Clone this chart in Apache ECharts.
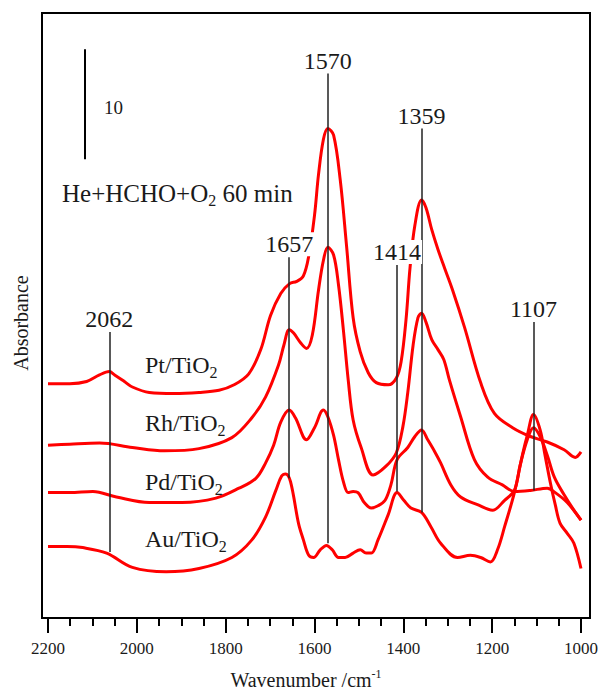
<!DOCTYPE html>
<html>
<head>
<meta charset="utf-8">
<script src="https://cdn.jsdelivr.net/npm/echarts@6/dist/echarts.min.js"></script>
<style>html,body{margin:0;padding:0;background:#fff}#c{width:601px;height:690px}</style>
</head>
<body>
<div id="c"></div>
<script>
// ---- data (wavenumber / cm-1, absorbance in arbitrary units; scale bar = 10) ----
const ptWavenumber = [2200,2151,2113,2084,2062,2050,2028,2010,1972,1916,1860,1815,1781,1748,1721,1699,1676,1656,1640,1625,1613,1600,1591,1580,1570,1557,1542,1528,1513,1497,1479,1461,1434,1416,1405,1394,1385,1374,1359,1349,1336,1322,1307,1289,1262,1226,1195,1154,1114,1076,1038,1013,1000];
const ptAbsorbance = [21.3,21.3,21.5,22.1,22.4,22.1,21.5,21.0,20.5,20.4,20.5,20.7,21.2,22.2,24.4,27.5,29.5,30.4,30.6,31.1,32.9,36.6,40.3,43.5,44.5,43.9,39.8,33.9,27.3,24.2,22.3,21.4,21.2,21.8,23.3,27.1,31.8,35.7,38.0,37.3,35.3,33.5,31.8,29.8,26.4,21.4,18.6,17.3,16.5,16.0,15.3,14.6,15.1];

const rhWavenumber = [2200,2151,2084,2010,1938,1860,1786,1741,1710,1681,1669,1657,1647,1631,1618,1605,1591,1580,1570,1557,1546,1535,1524,1513,1495,1468,1439,1416,1401,1390,1378,1367,1359,1349,1336,1322,1309,1296,1271,1240,1210,1177,1150,1114,1076,1058,1031,1000];
const rhAbsorbance = [15.7,15.8,15.9,15.5,15.2,15.4,16.4,18.2,20.1,23.0,24.8,26.2,25.9,25.0,24.5,25.7,29.8,32.5,33.7,33.0,30.3,26.2,21.6,18.0,15.5,13.0,13.8,15.0,17.4,20.5,24.8,27.3,27.7,26.9,25.3,24.4,23.5,21.6,18.3,14.4,12.8,12.1,11.5,11.6,11.8,11.4,10.5,8.9];

const pdWavenumber = [2200,2151,2099,2046,1972,1898,1822,1770,1732,1710,1692,1676,1657,1643,1618,1600,1580,1570,1557,1546,1535,1524,1513,1502,1488,1472,1457,1441,1428,1414,1390,1374,1359,1345,1329,1316,1293,1271,1233,1199,1172,1150,1137,1121,1107,1092,1076,1060,1038,1016,1000];
const pdAbsorbance = [11.4,11.4,11.5,11.0,10.5,10.5,10.9,11.8,12.7,14.1,15.7,17.8,18.9,18.2,16.2,17.3,18.9,18.3,16.6,14.4,12.4,11.4,11.5,11.4,10.5,10.0,10.2,10.7,12.1,14.4,15.5,16.5,17.1,16.2,15.1,14.1,12.1,11.0,10.3,9.8,10.7,11.6,13.9,16.2,17.3,16.5,14.8,12.8,11.2,9.8,8.9];

const auWavenumber = [2200,2157,2122,2068,2010,1934,1860,1786,1741,1710,1687,1674,1665,1654,1636,1625,1613,1602,1587,1573,1560,1546,1531,1513,1497,1484,1472,1457,1434,1414,1399,1383,1359,1338,1316,1278,1249,1226,1204,1188,1172,1150,1132,1121,1107,1092,1081,1069,1058,1047,1031,1016,1000];
const auAbsorbance = [6.5,6.5,6.4,5.9,4.6,4.2,4.5,5.5,7.1,9.2,11.6,12.9,13.1,12.4,8.6,7.1,5.7,5.5,6.2,6.6,6.2,5.5,5.5,5.9,6.2,5.9,5.9,7.1,9.4,11.4,10.7,10.0,9.6,8.3,6.8,5.5,5.7,5.5,5.1,6.2,8.3,11.4,14.8,16.6,18.5,17.1,14.8,12.3,10.3,8.6,7.7,6.8,4.5];

const peakWavenumbers = [2062,1657,1570,1414,1359,1107];
const peakLineTop = [26.0,32.8,49.5,32.1,44.5,26.9];
const peakLineBottom = [6.0,12.7,6.8,11.5,9.6,11.6];

const scaleBarWavenumber = 2117;
const scaleBarBottom = 41.7;
const scaleBarLength = 10;

const xTickValues = [2200,2000,1800,1600,1400,1200,1000];
const catalystNames = ['Pt','Rh','Pd','Au'];

// ---- chart ----
const FONT = 'Liberation Serif, Times New Roman, serif';
const chart = echarts.init(document.getElementById('c'), null, {renderer:'svg'});
const zip = (w, a) => w.map((x, i) => [x, a[i]]);
function curve(name, w, a) {
  return {
    name, type:'line', data: zip(w, a), showSymbol:false, smooth:0.35,
    lineStyle:{color:'#ff0000', width:3}, itemStyle:{color:'#ff0000'},
    z:2, silent:true, animation:false
  };
}
const markData = peakWavenumbers.map((w, i) => [
  {coord:[w, peakLineBottom[i]]},
  {coord:[w, peakLineTop[i]], label:{formatter:String(w)}}
]);
markData.push([
  {coord:[scaleBarWavenumber, scaleBarBottom], lineStyle:{width:2, color:'#000'}, label:{show:false}},
  {coord:[scaleBarWavenumber, scaleBarBottom + scaleBarLength]}
]);

function labelText(x, y, parts, size) {
  return {
    type:'text', x, y, silent:true, z:20,
    style:{
      text: parts, verticalAlign:'middle', align:'left',
      rich:{
        a:{fontFamily:FONT, fontSize:size, fill:'#1a1a1a', lineHeight:30},
        s:{fontFamily:FONT, fontSize:Math.round(size*0.65), fill:'#1a1a1a', lineHeight:15, verticalAlign:'bottom'}
      }
    }
  };
}
const curveLabelY = [365, 423, 482, 539];

const option = {
  backgroundColor:'#fff',
  animation:false,
  textStyle:{fontFamily:FONT},
  grid:{left:48, right:17, top:13, bottom:72, containLabel:false},
  xAxis:{
    type:'value', inverse:true, min:1000, max:2200, interval:200,
    axisLine:{show:false},
    axisTick:{show:true, inside:false, length:15, lineStyle:{color:'#000', width:2}},
    minorTick:{show:true, splitNumber:4, length:8, lineStyle:{color:'#000', width:2}},
    axisLabel:{margin:22, fontFamily:FONT, fontSize:17, color:'#1a1a1a',
      formatter:v => xTickValues.includes(v) ? String(v) : ''},
    splitLine:{show:false}
  },
  yAxis:{type:'value', min:0, max:55, show:false},
  series:[
    curve(catalystNames[0] + '/TiO2', ptWavenumber, ptAbsorbance),
    curve(catalystNames[1] + '/TiO2', rhWavenumber, rhAbsorbance),
    curve(catalystNames[2] + '/TiO2', pdWavenumber, pdAbsorbance),
    curve(catalystNames[3] + '/TiO2', auWavenumber, auAbsorbance),
    {
      type:'line', data:[], z:5, silent:true,
      markLine:{
        silent:true, animation:false, symbol:['none','none'],
        lineStyle:{color:'#222', width:1.5, type:'solid'},
        label:{show:true, position:'end', distance:1, fontFamily:FONT, fontSize:24,
          color:'#1a1a1a', backgroundColor:'#fff', padding:[0,1]},
        emphasis:{disabled:true},
        data:markData
      }
    }
  ],
  graphic:[
    {type:'rect', silent:true, z:10, shape:{x:42, y:13, width:548, height:605},
      style:{fill:'none', stroke:'#000', lineWidth:2}},
    {type:'text', x:104, y:107, silent:true, z:20,
      style:{text:'{a|10}', verticalAlign:'middle',
        rich:{a:{fontFamily:FONT, fontSize:19, fill:'#1a1a1a'}}}},
    labelText(62, 193, '{a|He+HCHO+O}{s|2}{a| 60 min}', 25),
    ...catalystNames.map((n, i) => labelText(145, curveLabelY[i], '{a|' + n + '/TiO}{s|2}', 24)),
    {type:'text', x:306, y:680, silent:true, z:20,
      style:{text:'{a|Wavenumber /cm}{p|-1}', align:'center', verticalAlign:'middle',
        rich:{
          a:{fontFamily:FONT, fontSize:20, fill:'#1a1a1a', lineHeight:24},
          p:{fontFamily:FONT, fontSize:12, fill:'#1a1a1a', lineHeight:12, verticalAlign:'top'}
        }}},
    {type:'text', x:21, y:323, rotation:Math.PI/2, silent:true, z:20,
      style:{text:'{a|Absorbance}', align:'center', verticalAlign:'middle',
        rich:{a:{fontFamily:FONT, fontSize:20, fill:'#1a1a1a'}}}}
  ]
};
chart.setOption(option);
</script>
</body>
</html>
